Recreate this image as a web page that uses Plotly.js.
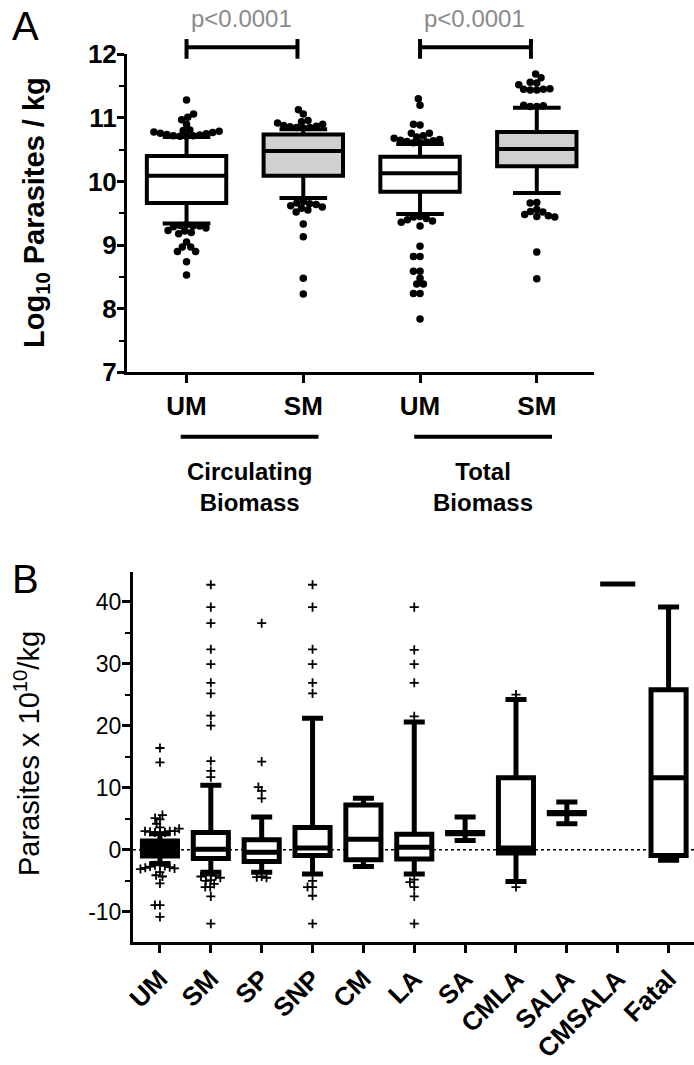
<!DOCTYPE html>
<html><head><meta charset="utf-8">
<script src="https://cdn.plot.ly/plotly-3.0.1.min.js"></script>
<style>html,body{margin:0;padding:0;background:#fff}</style>
</head><body>
<div id="chart" style="width:694px;height:1065px"></div>
<script>
// ---------- Panel A data (log10 parasites / kg) ----------
const groupsA = ['UM', 'SM', 'UM', 'SM'];
const q1A  = [9.66, 10.09, 9.84, 10.24];
const medA = [10.09, 10.48, 10.13, 10.51];
const q3A  = [10.40, 10.74, 10.39, 10.78];
const lowA = [9.34, 9.74, 9.49, 9.82];
const uppA = [10.70, 10.82, 10.59, 11.16];
const outHighA = [
  [10.71,10.71,10.72,10.72,10.73,10.74,10.75,10.76,10.77,10.78,10.79,10.80,10.81,10.90,10.97,11.01,11.06,11.28],
  [10.84,10.85,10.85,10.86,10.87,10.88,10.90,10.92,10.94,10.96,11.06,11.13],
  [10.61,10.61,10.62,10.63,10.64,10.65,10.66,10.68,10.70,10.72,10.76,10.76,10.89,10.90,11.20,11.30],
  [11.18,11.18,11.19,11.20,11.44,11.44,11.45,11.45,11.46,11.52,11.55,11.56,11.63,11.69]
];
const outLowA = [
  [9.32,9.31,9.30,9.30,9.29,9.27,9.23,9.22,9.20,9.18,9.05,8.97,8.97,8.90,8.90,8.74,8.53],
  [9.68,9.66,9.65,9.64,9.62,9.60,9.58,9.55,9.52,9.33,9.13,8.48,8.23],
  [9.45,9.44,9.42,9.40,9.38,9.36,9.30,8.98,8.82,8.82,8.59,8.59,8.48,8.39,8.39,8.24,8.24,7.84],
  [9.67,9.66,9.56,9.53,9.52,9.48,9.46,9.45,9.44,8.89,8.47]
];
const biomassLabels = ['Circulating<br>Biomass', 'Total<br>Biomass'];
const pLabels = ['p&lt;0.0001', 'p&lt;0.0001'];
const ticksA = [7, 8, 9, 10, 11, 12];

// ---------- Panel B data (parasites x 10^10 / kg) ----------
const catsB = ['UM','SM','SP','SNP','CM','LA','SA','CMLA','SALA','CMSALA','Fatal'];
const q1B  = [-1.0, -1.4, -1.9, -0.9, -1.6, -1.5, 2.6, -0.5, 5.8, 42.8, -0.9];
const medB = [ 0.0,  0.1, -0.4,  0.3,  1.7,  0.4, 2.7,  0.3, 5.9, 42.8, 11.6];
const q3B  = [ 1.4,  2.8,  1.6,  3.6,  7.2,  2.5, 2.8, 11.6, 6.0, 42.8, 25.8];
const lowB = [-2.2, -3.6, -3.6, -3.9, -2.7, -3.9, 1.5, -5.1, 4.2, 42.8, -1.7];
const uppB = [ 2.6, 10.4,  5.3, 21.2,  8.3, 20.6, 5.3, 24.2, 7.7, 42.8, 39.1];
const outHighB = [
  [2.7,2.8,2.8,2.9,3.0,3.0,3.0,3.4,3.6,4.2,4.9,5.1,5.6,14.1,16.4],
  [11.7,12.7,14.3,20.0,21.6,25.2,26.9,29.9,32.3,36.5,39.1,42.7],
  [8.3,9.5,10.1,14.2,36.5],
  [25.2,26.9,29.9,32.3,39.1,42.7],
  [],
  [21.5,26.9,29.9,32.2,39.1],
  [], [25.0], [], [], []
];
const outLowB = [
  [-2.4,-2.5,-2.6,-2.7,-2.8,-2.9,-3.0,-3.1,-3.6,-4.1,-4.3,-5.4,-8.9,-8.9,-10.8],
  [-4.0,-4.1,-4.2,-4.3,-4.5,-4.9,-5.0,-5.5,-6.0,-6.0,-7.5,-11.9],
  [-4.3,-4.4,-4.5],
  [-5.0,-6.0,-6.0,-7.4,-11.9],
  [],
  [-4.8,-5.2,-6.0,-7.5,-11.9],
  [], [-6.0], [], [], []
];
const ticksB = [-10, 0, 10, 20, 30, 40];

// ---------- layout geometry ----------
const W = 694, H = 1065;
const GA = {x0:127, x1:594, y0:54.3, y1:372.3, xr:[-0.51, 3.49], yr:[7, 12]};
const GB = {x0:133, x1:694, y0:571.7, y1:942.3, xr:[-0.53, 10.5], yr:[-14.9, 44.8]};
function pxX(g){ return (g.x1 - g.x0) / (g.xr[1] - g.xr[0]); }
function pxY(g){ return (g.y1 - g.y0) / (g.yr[1] - g.yr[0]); }
function yDom(g, v){ return (v - g.yr[0]) / (g.yr[1] - g.yr[0]); }

// simple beeswarm: points closest to the box are placed first
function swarm(vals, center, g, diam, dir){
  const sx = pxX(g), sy = pxY(g);
  const idx = vals.map((v,i)=>i).sort((a,b)=> dir*(vals[a]-vals[b]));
  const placed = [], xs = new Array(vals.length);
  idx.forEach(i => {
    const py = vals[i]*sy;
    const cands = [0];
    placed.forEach(p => {
      const dy = Math.abs(py - p.py);
      if (dy < diam){ const w = Math.sqrt(diam*diam - dy*dy); cands.push(p.px - w - 0.01, p.px + w + 0.01); }
    });
    cands.sort((a,b)=> Math.abs(a)-Math.abs(b) || a-b);
    let best = 0;
    for (const c of cands){
      if (placed.every(p => (c-p.px)*(c-p.px) + (py-p.py)*(py-p.py) >= diam*diam - 0.05)){ best = c; break; }
    }
    placed.push({px:best, py:py});
    xs[i] = center + best/sx;
  });
  return xs;
}

const traces = [];
const posA = groupsA.map((g,i)=>i);
const posB = catsB.map((c,i)=>i);

// Panel A boxes
[[0,2,'white'],[1,3,'#d0d0d0']].forEach(([a,b,fill]) => {
  traces.push({type:'box', xaxis:'x', yaxis:'y', x:[posA[a],posA[b]],
    q1:[q1A[a],q1A[b]], median:[medA[a],medA[b]], q3:[q3A[a],q3A[b]],
    lowerfence:[lowA[a],lowA[b]], upperfence:[uppA[a],uppA[b]],
    boxpoints:false, width:0.68, whiskerwidth:0.6, fillcolor:fill,
    line:{color:'black', width:4}, hoverinfo:'skip'});
});
// Panel A outliers
let axA = [], ayA = [];
posA.forEach((p,i) => {
  const sh = swarm(outHighA[i], p, GA, 6.6, 1);
  const sl = swarm(outLowA[i], p, GA, 6.6, -1);
  axA = axA.concat(sh, sl); ayA = ayA.concat(outHighA[i], outLowA[i]);
});
traces.push({type:'scatter', mode:'markers', xaxis:'x', yaxis:'y', x:axA, y:ayA,
  marker:{color:'black', size:7.5, symbol:'circle'}, hoverinfo:'skip', cliponaxis:false});

// Panel B boxes
traces.push({type:'box', xaxis:'x2', yaxis:'y2', x:[posB[0]], q1:[q1B[0]], median:[medB[0]], q3:[q3B[0]],
  lowerfence:[lowB[0]], upperfence:[uppB[0]], boxpoints:false, width:0.69, whiskerwidth:0.6,
  fillcolor:'black', line:{color:'black', width:5}, hoverinfo:'skip'});
const rest = posB.slice(1);
traces.push({type:'box', xaxis:'x2', yaxis:'y2', x:rest,
  q1:q1B.slice(1), median:medB.slice(1), q3:q3B.slice(1),
  lowerfence:lowB.slice(1), upperfence:uppB.slice(1),
  boxpoints:false, width:0.69, whiskerwidth:0.6, fillcolor:'white',
  line:{color:'black', width:5}, hoverinfo:'skip'});
let axB = [], ayB = [];
posB.forEach((p,i) => {
  const sh = swarm(outHighB[i], p, GB, 5, 1);
  const sl = swarm(outLowB[i], p, GB, 5, -1);
  axB = axB.concat(sh, sl); ayB = ayB.concat(outHighB[i], outLowB[i]);
});
traces.push({type:'scatter', mode:'markers', xaxis:'x2', yaxis:'y2', x:axB, y:ayB,
  marker:{color:'black', size:6.5, symbol:'cross-thin', line:{color:'black', width:1.8}}, hoverinfo:'skip', cliponaxis:false});

const FONT = 'Liberation Sans, Arial, sans-serif';
const shapes = [], annotations = [];

// brackets + p values, group lines + labels (panel A)
[0,1].forEach(k => {
  const a = posA[2*k], b = posA[2*k] + 0.95;
  const yb = yDom(GA, 12.11), yt = yDom(GA, 12.24), ybot = yDom(GA, 11.93);
  shapes.push({type:'line', xref:'x', yref:'y domain', x0:a, x1:b, y0:yb, y1:yb, line:{color:'black', width:4}});
  shapes.push({type:'line', xref:'x', yref:'y domain', x0:a, x1:a, y0:ybot, y1:yt, line:{color:'black', width:4}});
  shapes.push({type:'line', xref:'x', yref:'y domain', x0:b, x1:b, y0:ybot, y1:yt, line:{color:'black', width:4}});
  annotations.push({xref:'x', yref:'y domain', x:posA[2*k]+0.47, y:yDom(GA, 12.57), text:pLabels[k],
    showarrow:false, xanchor:'center', yanchor:'middle', font:{family:FONT, size:24, color:'#8a8a8a'}});
  shapes.push({type:'line', xref:'x', yref:'y domain', x0:posA[2*k]-0.05, x1:posA[2*k]+1.13,
    y0:-0.203, y1:-0.203, line:{color:'black', width:4}});
  annotations.push({xref:'x', yref:'y domain', x:posA[2*k]+0.54, y:-0.36, text:'<b>'+biomassLabels[k].replace('<br>','</b><br><b>')+'</b>',
    showarrow:false, xanchor:'center', yanchor:'middle', font:{family:FONT, size:24, color:'black'}});
});
// dotted zero line panel B
shapes.push({type:'line', xref:'x2 domain', yref:'y2', x0:0, x1:1, y0:0, y1:0, layer:'below',
  line:{color:'black', width:1.5, dash:'dot'}});

// panel letters & y titles
annotations.push({xref:'paper', yref:'paper', x:10/W, y:1-2/H, xanchor:'left', yanchor:'top', text:'A',
  showarrow:false, font:{family:FONT, size:40, color:'black'}});
annotations.push({xref:'paper', yref:'paper', x:10/W, y:1-555/H, xanchor:'left', yanchor:'top', text:'B',
  showarrow:false, font:{family:FONT, size:40, color:'black'}});
annotations.push({xref:'paper', yref:'paper', x:36/W, y:1-213/H, xanchor:'center', yanchor:'middle', textangle:-90,
  text:'<b>Log<sub>10</sub> Parasites / kg</b>', showarrow:false, font:{family:FONT, size:29, color:'black'}});
annotations.push({xref:'paper', yref:'paper', x:27/W, y:1-754/H, xanchor:'center', yanchor:'middle', textangle:-90,
  text:'Parasites x 10<sup>10</sup>/kg', showarrow:false, font:{family:FONT, size:29, color:'black'}});

const axCommon = {showgrid:false, zeroline:false, showline:true, linecolor:'black', linewidth:3,
  ticks:'outside', tickcolor:'black', tickwidth:3, ticklen:8, fixedrange:true};

const layout = {
  width:W, height:H, margin:{l:0, r:0, t:0, b:0}, showlegend:false,
  paper_bgcolor:'white', plot_bgcolor:'white', boxmode:'overlay',
  xaxis: Object.assign({}, axCommon, {domain:[GA.x0/W, GA.x1/W], range:GA.xr, anchor:'y',
    tickvals:posA, ticktext:groupsA, tickfont:{family:FONT, size:26, color:'black', weight:'bold'}}),
  yaxis: Object.assign({}, axCommon, {domain:[1-GA.y1/H, 1-GA.y0/H], range:GA.yr, anchor:'x',
    tickvals:ticksA, ticklen:7, ticklabelstandoff:-5, tickfont:{family:FONT, size:26, color:'black', weight:'bold'},
    minor:{dtick:0.5, ticks:'outside', ticklen:5, tickwidth:2, tickcolor:'black'}}),
  xaxis2: Object.assign({}, axCommon, {domain:[GB.x0/W, GB.x1/W], range:GB.xr, anchor:'y2',
    tickvals:posB, ticktext:catsB, tickangle:-45, tickfont:{family:FONT, size:26, color:'black', weight:'bold'}}),
  yaxis2: Object.assign({}, axCommon, {domain:[1-GB.y1/H, 1-GB.y0/H], range:GB.yr, anchor:'x2',
    tickvals:ticksB, ticktext:ticksB.map(String), ticklabelstandoff:-4, tickfont:{family:FONT, size:23, color:'black'},
    minor:{dtick:5, ticks:'outside', ticklen:5, tickwidth:2, tickcolor:'black'}}),
  shapes:shapes, annotations:annotations
};

Plotly.newPlot('chart', traces, layout, {displayModeBar:false, staticPlot:true});
</script>
</body></html>
